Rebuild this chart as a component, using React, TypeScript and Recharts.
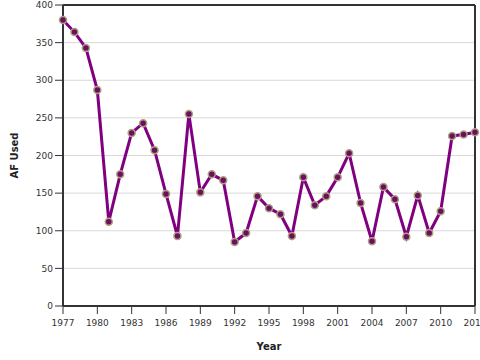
import React from 'react';
import { LineChart, Line, XAxis, YAxis, CartesianGrid, ReferenceLine } from 'recharts';

const years: number[] = [
  1977, 1978, 1979, 1980, 1981, 1982, 1983, 1984, 1985, 1986, 1987, 1988, 1989,
  1990, 1991, 1992, 1993, 1994, 1995, 1996, 1997, 1998, 1999, 2000, 2001, 2002,
  2003, 2004, 2005, 2006, 2007, 2008, 2009, 2010, 2011, 2012, 2013,
];
const afUsed: number[] = [
  380, 364, 343, 287, 112, 175, 230, 243, 207, 149, 93, 255, 151,
  175, 167, 85, 97, 146, 130, 122, 93, 171, 134, 146, 171, 203,
  137, 86, 158, 142, 92, 147, 97, 126, 226, 228, 231,
];
const xTicks: number[] = [1977, 1980, 1983, 1986, 1989, 1992, 1995, 1998, 2001, 2004, 2007, 2010, 2013];
const yTicks: number[] = [0, 50, 100, 150, 200, 250, 300, 350, 400];

const data = years.map((year, i) => ({ year, af: afUsed[i] }));

const FONT = '"DejaVu Sans", Verdana, sans-serif';
const AXIS = '#333';

const YLabel = (props: any) => {
  const vb = props.viewBox || { x: 0, y: 0, width: 0, height: 0 };
  const cx = 14;
  const cy = vb.y + vb.height / 2;
  return (
    <text
      x={cx}
      y={cy}
      transform={`rotate(-90, ${cx}, ${cy})`}
      textAnchor="middle"
      dominantBaseline="central"
      fontFamily={FONT}
      fontSize={10}
      fontWeight="bold"
      fill="#222"
    >
      AF Used
    </text>
  );
};

export default function App() {
  return (
    <div style={{ position: 'absolute', left: 0, top: 0, width: 480, height: 360, background: '#fff' }}>
      <LineChart width={480} height={360} data={data} margin={{ top: 5, right: 5, bottom: 0, left: 0 }}>
        <CartesianGrid vertical={false} stroke="#d9d9d9" strokeWidth={1} />
        <XAxis
          dataKey="year"
          type="number"
          domain={[1977, 2013]}
          ticks={xTicks}
          interval={0}
          height={54}
          tickSize={8}
          tickMargin={6}
          axisLine={{ stroke: AXIS, strokeWidth: 2 }}
          tickLine={{ stroke: AXIS, strokeWidth: 1 }}
          tick={{ fill: '#333', fontSize: 9, fontFamily: FONT }}
          label={{ value: 'Year', position: 'insideBottom', offset: 10, fill: '#222', fontSize: 10, fontWeight: 'bold', fontFamily: FONT }}
        />
        <YAxis
          type="number"
          domain={[0, 400]}
          ticks={yTicks}
          interval={0}
          width={63}
          tickSize={8}
          tickMargin={2}
          axisLine={{ stroke: AXIS, strokeWidth: 2 }}
          tickLine={{ stroke: AXIS, strokeWidth: 1 }}
          tick={{ fill: '#333', fontSize: 9, fontFamily: FONT }}
          label={<YLabel />}
        />
        <ReferenceLine x={2013} stroke={AXIS} strokeWidth={2} />
        <ReferenceLine y={400} stroke={AXIS} strokeWidth={2} />
        <Line
          type="linear"
          dataKey="af"
          stroke="#800080"
          strokeWidth={3}
          dot={{ r: 3.5, fill: '#6a1060', stroke: '#b0a080', strokeWidth: 1.5 }}
          activeDot={false}
          isAnimationActive={false}
        />
      </LineChart>
    </div>
  );
}
